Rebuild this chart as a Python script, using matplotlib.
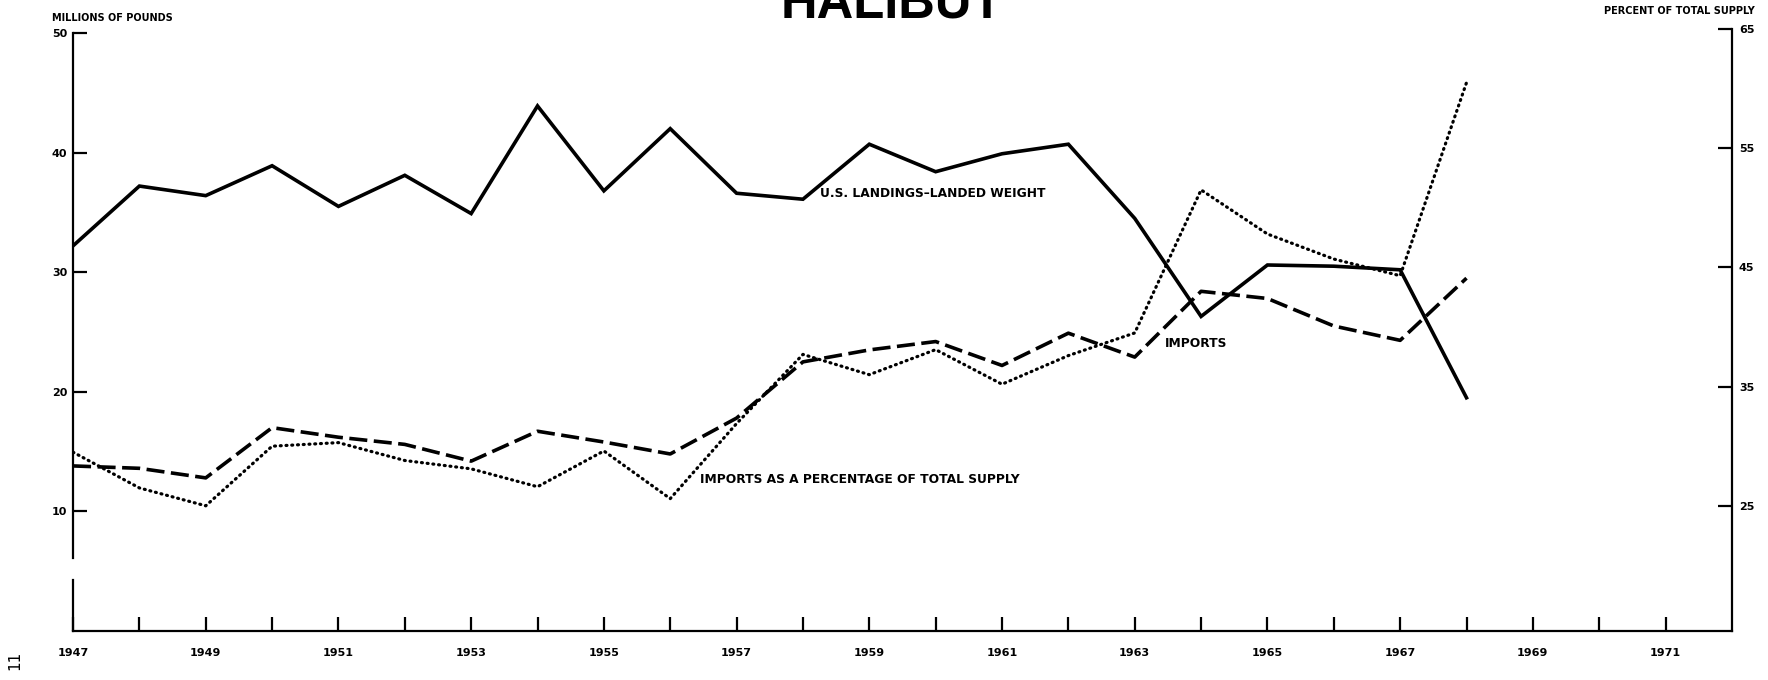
import matplotlib.pyplot as plt

years = list(range(1947, 1969))

# U.S. landings, landed weight (millions of pounds)
landings = [32.2, 37.2, 36.4, 38.9, 35.5, 38.1, 34.9, 43.9, 36.8, 42.0, 36.6,
            36.1, 40.7, 38.4, 39.9, 40.7, 34.5, 26.3, 30.6, 30.5, 30.2, 19.5]

# imports (millions of pounds)
imports = [13.8, 13.6, 12.8, 17.0, 16.2, 15.6, 14.2, 16.7, 15.8, 14.8, 17.8,
           22.5, 23.5, 24.2, 22.2, 24.9, 22.9, 28.4, 27.8, 25.5, 24.3, 29.5]

# imports as a percentage of total supply
import_pct = [29.5, 26.5, 25.0, 30.0, 30.3, 28.8, 28.1, 26.6, 29.6, 25.6, 31.9,
              37.7, 36.0, 38.1, 35.2, 37.6, 39.5, 51.5, 47.8, 45.7, 44.3, 60.5]

left_ticks = [10, 20, 30, 40, 50]
right_ticks = [25, 35, 45, 55, 65]
year_ticks = list(range(1947, 1972))
year_labels = [str(y) if y % 2 == 1 else '' for y in year_ticks]

fig = plt.figure(figsize=(17.68, 6.8), dpi=100)
ax = fig.add_axes([0.0413, 0.0721, 0.9383, 0.8794])
# the percent scale reaches a little higher than the pounds scale
ax2 = fig.add_axes([0.0413, 0.0721, 0.9383, 0.8853], sharex=ax)
ax2.patch.set_visible(False)

ax.plot(years, landings, color='black', lw=2.6, solid_joinstyle='miter', zorder=3)
ax.plot(years, imports, color='black', lw=2.6, linestyle=(0, (5, 1.8)), zorder=3)
ax2.plot(years, import_pct, color='black', lw=2.3, linestyle=(0, (0.3, 1.5)),
         dash_capstyle='round', zorder=3)

ax.set_xlim(1947, 1972)
ax.set_ylim(0, 50)
ax2.set_ylim(14.5, 65)

ax.set_xticks(year_ticks)
ax.set_xticklabels(year_labels)
ax.set_yticks(left_ticks)
ax2.set_yticks(right_ticks)
ax2.yaxis.tick_right()
ax2.yaxis.set_label_position('right')
ax2.tick_params(axis='x', bottom=False, labelbottom=False)

for a in (ax, ax2):
    for s in a.spines.values():
        s.set_linewidth(1.6)
    a.spines['top'].set_visible(False)
ax2.spines['left'].set_visible(False)
ax2.spines['bottom'].set_visible(False)
ax.spines['right'].set_visible(False)

# broken left axis as in the original print
ax.spines['left'].set_bounds(6.1, 50)
ax.plot([1947, 1947], [0, 4.3], color='black', lw=1.6, clip_on=False)

ax.tick_params(axis='x', direction='in', length=10, width=1.6, pad=12,
               labelsize=8)
ax.tick_params(axis='y', direction='in', length=10, width=1.6, pad=4,
               labelsize=8)
ax2.tick_params(axis='y', direction='in', length=10, width=1.6, pad=5,
                labelsize=8)
for lab in ax.get_xticklabels() + ax.get_yticklabels() + ax2.get_yticklabels():
    lab.set_fontweight('bold')

ax.text(1958.25, 36.6, 'U.S. LANDINGS\u2013LANDED WEIGHT', fontsize=8.8,
        fontweight='bold', va='center', ha='left')
ax.text(1963.45, 24.0, 'IMPORTS', fontsize=8.8, fontweight='bold',
        va='center', ha='left')
ax.text(1956.45, 12.7, 'IMPORTS AS A PERCENTAGE OF TOTAL SUPPLY', fontsize=8.8,
        fontweight='bold', va='center', ha='left')

fig.text(52 / 1768, 1 - 18 / 680, 'MILLIONS OF POUNDS', fontsize=7,
         fontweight='bold', ha='left', va='center')
fig.text(1755 / 1768, 1 - 11 / 680, 'PERCENT OF TOTAL SUPPLY', fontsize=7,
         fontweight='bold', ha='right', va='center')
fig.text(0.5045, 1 - 18 / 680, 'HALIBUT', family='Liberation Sans',
         fontsize=36.5, fontweight='bold', ha='center', va='baseline')
fig.text(15 / 1768, 1 - 660 / 680, '11', fontsize=11, rotation=90,
         ha='center', va='center')

fig.savefig('out.png', dpi=100)
